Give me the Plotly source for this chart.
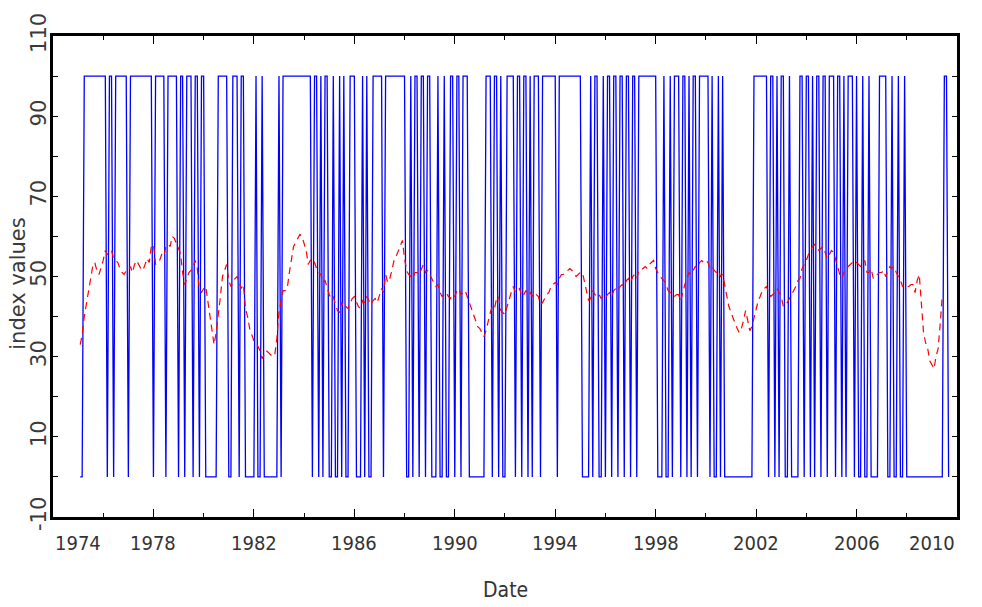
import plotly.graph_objects as go

# ---------------- data ----------------
years = list(range(1975, 2010))

# Blue regime indicator: one character per month ('1' = 100, '0' = 0).
# 1975 starts in February, 2009 ends in September.
regime_bits = [
    "00111111111",   # 1975 (Feb-Dec)
    "110110111111",  # 1976
    "011111111111",  # 1977
    "011111011111",  # 1978
    "011011101101",  # 1979
    "100000011111",  # 1980
    "001110110000",  # 1981
    "010010000000",  # 1982
    "101111111111",  # 1983
    "111101101011",  # 1984
    "001001010011",  # 1985
    "100010100111",  # 1986
    "110111111111",  # 1987
    "100101101101",  # 1988
    "100010010011",  # 1989
    "011011100000",  # 1990
    "000111011010",  # 1991
    "011110110110",  # 1992
    "101110111111",  # 1993
    "101111111111",  # 1994
    "100001011001",  # 1995
    "011011011011",  # 1996
    "011011111111",  # 1997
    "100010010111",  # 1998
    "011010110111",  # 1999
    "110100101000",  # 2000
    "000000000001",  # 2001
    "111111011010",  # 2002
    "110010000110",  # 2003
    "110101101101",  # 2004
    "110110101110",  # 2005
    "100100100001",  # 2006
    "111001001001",  # 2007
    "000000000000",  # 2008
    "000000110",     # 2009 (Jan-Sep)
]

# Red dashed index, monthly values. 1975 starts in February, 2009 ends in June.
index_values = [
    [33, 35.5, 40, 43, 45.5, 49, 52.5, 53.5, 51.5, 50.5, 52],                 # 1975
    [54, 56.5, 55.5, 56, 56.5, 54.5, 54, 53.5, 52, 51, 50.5, 51.5],           # 1976
    [51.5, 52.5, 51, 53, 54, 53, 52, 51.5, 53, 54.5, 53.5, 57.5],             # 1977
    [58, 53, 53.5, 54, 55.5, 55, 57.5, 58, 57.5, 60, 59.5, 58],               # 1978
    [57, 55.5, 51, 48, 49.5, 51, 51.5, 52.5, 54, 52, 46.5, 46],               # 1979
    [47, 47.5, 44, 40.5, 37, 33, 36, 40, 45, 50, 51.5, 53],                   # 1980
    [49, 47.5, 48.5, 49.5, 50, 48.5, 47, 48, 42, 40, 37, 35.5],               # 1981
    [34, 33.5, 32.5, 31.5, 29.5, 30.5, 31.5, 31, 30.5, 30, 30.5, 34.5],       # 1982
    [41, 43.5, 46.5, 46.5, 47, 51, 54, 57.5, 58.5, 59.5, 60.5, 60],           # 1983
    [58.5, 56.5, 53, 54, 54.5, 53.5, 52, 51, 50.5, 48.5, 49, 47],             # 1984
    [45.5, 44.5, 45, 43, 41.5, 41, 43.5, 42, 42.5, 42, 43.5, 44.5],           # 1985
    [45, 43.5, 42.5, 42, 44, 43.5, 45, 44, 43, 44, 44.5, 43.5],               # 1986
    [45.5, 47, 46, 50.5, 48.5, 49.5, 51.5, 54, 55, 56.5, 57.5, 59],           # 1987
    [54.5, 51.5, 50.5, 50, 49.5, 51, 51, 50.5, 52, 53, 51, 51.5],             # 1988
    [50.5, 49.5, 48.5, 47.5, 48, 46, 45, 45.5, 46, 45, 44.5, 45.5],           # 1989
    [45, 46.5, 47, 45.5, 46, 46.5, 45, 43.5, 41.5, 40, 38.5, 37.5],           # 1990
    [37, 36, 35, 36.5, 39, 41, 42.5, 42, 44.5, 45, 41.5, 41],                 # 1991
    [40.5, 42.5, 44.5, 46, 47.5, 46, 46.5, 47, 45, 45.5, 46.5, 45.5],         # 1992
    [46, 45, 46, 45.5, 45, 43, 43.5, 44.5, 45.5, 46, 47.5, 48],               # 1993
    [48.5, 48, 49.5, 50.5, 50.5, 51, 51.5, 52, 51.5, 51, 50, 50.5],           # 1994
    [51, 51, 48.5, 46.5, 44, 44.5, 46.5, 45.5, 45, 45.5, 44.5, 45],           # 1995
    [44.5, 45.5, 46, 45, 46.5, 47, 46.5, 47.5, 48, 47.5, 49, 49.5],           # 1996
    [48.5, 50, 50.5, 49.5, 51.5, 51.5, 52, 52.5, 52, 53, 53.5, 54],           # 1997
    [52, 51, 50, 49.5, 49, 48, 46.5, 46, 45.5, 45, 45.5, 45.5],               # 1998
    [44, 46.5, 48, 49.5, 51, 50.5, 51.5, 52.5, 52, 53.5, 54, 53.5],           # 1999
    [54, 53.5, 52, 52.5, 51.5, 51, 51.5, 50, 50.5, 48, 45.5, 42.5],           # 2000
    [41, 39.5, 38.5, 37, 36, 37, 39, 41.5, 39, 36.5, 37.5, 39.5],             # 2001
    [42, 44, 45, 46.5, 47, 47.5, 46, 45, 45.5, 46, 47, 46],                   # 2002
    [45, 42.5, 43, 43.5, 44.5, 45.5, 46.5, 47.5, 49, 49.5, 52, 53],           # 2003
    [54, 55.5, 56.5, 57.5, 58, 57, 56.5, 57, 57.5, 56, 54.5, 55.5],           # 2004
    [56.5, 56, 54, 52.5, 50.5, 49.5, 51, 52, 52.5, 53, 53.5, 54],             # 2005
    [53.5, 53, 52.5, 53, 54, 51, 51, 52, 49.5, 50, 50.5, 51],                 # 2006
    [51, 51.5, 50, 51.5, 52.5, 52, 52.5, 51, 50, 49, 47.5, 48],               # 2007
    [47.5, 47.5, 48, 48, 46, 49, 50.5, 43.5, 36, 33.5, 32, 29],               # 2008
    [28, 27, 30, 32, 38, 45.5],                                               # 2009
]

x_tick_years = [1974, 1978, 1982, 1986, 1990, 1994, 1998, 2002, 2006, 2010]
x_tick_labels = ["1974", "1978", "1982", "1986", "1990", "1994", "1998", "2002", "2006", "2010"]
y_tick_values = [-10, 10, 30, 50, 70, 90, 110]
y_tick_labels = ["-10", "10", "30", "50", "70", "90", "110"]


# ---------------- build monthly series ----------------
def monthly(per_year, first_month_first_year):
    xs, ys = [], []
    for i, (yr, vals) in enumerate(zip(years, per_year)):
        m0 = first_month_first_year if i == 0 else 1
        for k, v in enumerate(vals):
            xs.append(f"{yr}-{m0 + k:02d}-01")
            ys.append(v)
    return xs, ys


regime_x, regime_y = monthly([[100 if c == "1" else 0 for c in s] for s in regime_bits], 2)
index_x, index_y = monthly(index_values, 2)

fig = go.Figure()
fig.add_trace(go.Scatter(x=regime_x, y=regime_y, mode="lines",
                         line=dict(color="#0000ff", width=1.3), showlegend=False))
fig.add_trace(go.Scatter(x=index_x, y=index_y, mode="lines",
                         line=dict(color="#ff0000", width=1.2, dash="7px,5px"), showlegend=False))

narrow = "Liberation Sans Narrow, DejaVu Sans Condensed, Arial Narrow, sans-serif"
wide = "DejaVu Sans, Verdana, sans-serif"

fig.update_xaxes(
    type="date", range=["1974-01-01", "2010-01-01"],
    showline=True, linecolor="black", linewidth=3, mirror="ticks",
    ticks="inside", tickcolor="black", ticklen=8, tickwidth=1,
    tick0="1974-01-01", dtick="M48", showticklabels=False,
    minor=dict(ticks="inside", ticklen=4, tickcolor="black", tickwidth=1, dtick="M24", tick0="1974-01-01"),
    showgrid=False, zeroline=False,
)
fig.update_yaxes(
    range=[-10, 110],
    showline=True, linecolor="black", linewidth=3, mirror="ticks",
    ticks="inside", tickcolor="black", ticklen=5, tickwidth=1,
    tickvals=y_tick_values, ticktext=y_tick_labels, tickangle=-90,
    ticklabelstandoff=-4,
    tickfont=dict(family=wide, size=21, color="#3a3a3a"),
    minor=dict(ticks="inside", ticklen=5, tickcolor="black", tickwidth=1, dtick=10, tick0=0),
    showgrid=False, zeroline=False,
)

annotations = []
for yr, lab in zip(x_tick_years, x_tick_labels):
    if yr == x_tick_years[0]:
        anchor = "left"
    elif yr == x_tick_years[-1]:
        anchor = "right"
    else:
        anchor = "center"
    annotations.append(dict(x=f"{yr}-01-01", y=-0.054, xref="x", yref="paper",
                            text=lab, showarrow=False, xanchor=anchor, yanchor="middle",
                            font=dict(family=narrow, size=20, color="#333333")))
annotations.append(dict(x=0.5, y=-0.152, xref="paper", yref="paper", text="Date",
                        showarrow=False, xanchor="center", yanchor="middle",
                        font=dict(family=narrow, size=21, color="#333333")))
annotations.append(dict(x=-0.0387, y=0.485, xref="paper", yref="paper", text="index values",
                        showarrow=False, xanchor="center", yanchor="middle", textangle=-90,
                        font=dict(family=wide, size=21, color="#3a3a3a")))

fig.update_layout(
    width=982, height=607,
    margin=dict(l=53, r=25, t=36, b=90),
    paper_bgcolor="white", plot_bgcolor="white",
    annotations=annotations,
)

fig.write_html("out.html")
